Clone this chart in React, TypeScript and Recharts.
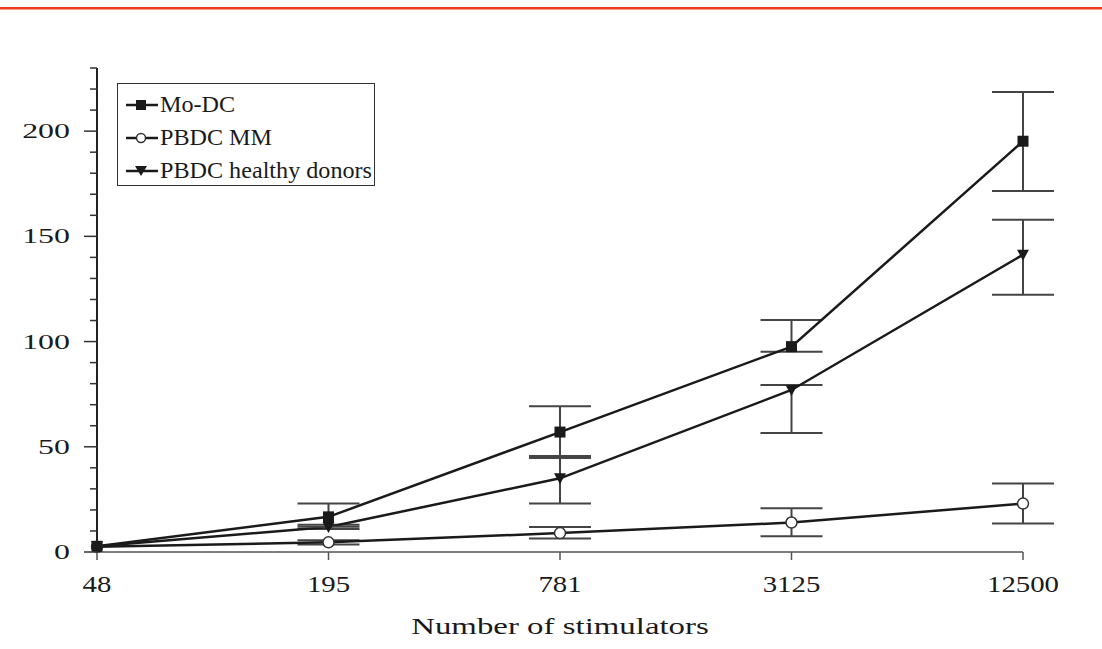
import { LineChart, Line, XAxis, YAxis, ErrorBar, Legend, Label } from 'recharts'

const stimulators = ['48', '195', '781', '3125', '12500']

const moDc = [2.7, 16.7, 57, 97.6, 195.2]
const moDcErr = [null, [4.7, 6.3], [12.3, 12.3], [2.4, 12.7], [23.6, 23.4]]

const pbdcMm = [2.5, 4.6, 9, 14, 23]
const pbdcMmErr = [null, [1, 1], [2.6, 2.9], [6.5, 6.8], [9.5, 9.6]]

const pbdcHealthy = [2.7, 11.9, 35, 77, 141.3]
const pbdcHealthyErr = [null, [1, 1], [12, 10.6], [20.5, 2.4], [19.1, 16.6]]

const yTicks = [0, 10, 20, 30, 40, 50, 60, 70, 80, 90, 100, 110, 120, 130, 140, 150, 160, 170, 180, 190, 200, 210, 220, 230]
const yLabels = [0, 50, 100, 150, 200]

const legendItems = [
  { name: 'Mo-DC', marker: 'square' },
  { name: 'PBDC MM', marker: 'circle' },
  { name: 'PBDC healthy donors', marker: 'triangle' },
]

const data = stimulators.map((n, i) => ({
  n,
  mo: moDc[i],
  moErr: moDcErr[i],
  mm: pbdcMm[i],
  mmErr: pbdcMmErr[i],
  hd: pbdcHealthy[i],
  hdErr: pbdcHealthyErr[i],
}))

const FONT = '"Liberation Serif", "Times New Roman", serif'
const INK = '#1a1a1a'

function SquareDot(p: any) {
  if (p.cx == null || p.cy == null) return <g key={p.index} />
  return <rect key={p.index} x={p.cx - 5.5} y={p.cy - 5.5} width={11} height={11} fill={INK} />
}

function CircleDot(p: any) {
  if (p.cx == null || p.cy == null) return <g key={p.index} />
  return <circle key={p.index} cx={p.cx} cy={p.cy} r={5.5} fill="#fff" stroke="#333" strokeWidth={1.5} />
}

function TriangleDot(p: any) {
  if (p.cx == null || p.cy == null) return <g key={p.index} />
  const { cx, cy } = p
  return <polygon key={p.index} points={`${cx - 6},${cy - 5} ${cx + 6},${cy - 5} ${cx},${cy + 6}`} fill={INK} />
}

function Marker({ kind }: { kind: string }) {
  return (
    <svg width={36} height={20} style={{ display: 'block', flex: 'none' }}>
      <line x1={2} x2={34} y1={10} y2={10} stroke={INK} strokeWidth={2.5} />
      {kind === 'square' && <rect x={12} y={5} width={10} height={10} fill={INK} />}
      {kind === 'circle' && <circle cx={17} cy={10} r={4.5} fill="#fff" stroke="#333" strokeWidth={1.5} />}
      {kind === 'triangle' && <polygon points="11,5 23,5 17,15" fill={INK} />}
    </svg>
  )
}

function LegendBox() {
  return (
    <div
      style={{
        border: '1.5px solid #333',
        width: 258,
        height: 103,
        boxSizing: 'border-box',
        padding: '4px 0 0 6px',
        overflow: 'hidden',
        background: '#fff',
      }}
    >
      {legendItems.map((item) => (
        <div key={item.name} style={{ display: 'flex', alignItems: 'center', height: 33 }}>
          <Marker kind={item.marker} />
          <span
            style={{
              display: 'inline-block',
              fontFamily: FONT,
              fontSize: 23,
              color: INK,
              whiteSpace: 'nowrap',
              transform: 'scaleX(1.05)',
              transformOrigin: 'left center',
            }}
          >
            {item.name}
          </span>
        </div>
      ))}
    </div>
  )
}

function YTick(props: any) {
  const { x, y, payload } = props
  const major = yLabels.includes(payload.value)
  return (
    <g>
      <line x1={x - (major ? 13 : 7)} x2={x} y1={y} y2={y} stroke="#333" strokeWidth={1.5} />
      {major && (
        <text
          transform={`translate(${x - 27},${y + 7}) scale(1.45,1)`}
          textAnchor="end"
          fontFamily={FONT}
          fontSize={22}
          fill={INK}
        >
          {payload.value}
        </text>
      )}
    </g>
  )
}

function XTick(props: any) {
  const { x, y, payload } = props
  return (
    <text
      transform={`translate(${x},${y + 32}) scale(1.2,1)`}
      textAnchor="middle"
      fontFamily={FONT}
      fontSize={24}
      fill={INK}
    >
      {payload.value}
    </text>
  )
}

function XTitle(props: any) {
  const vb = props.viewBox || {}
  const cx = vb.x + vb.width / 2
  return (
    <text
      transform={`translate(${cx},${vb.y + 82}) scale(1.43,1)`}
      textAnchor="middle"
      fontFamily={FONT}
      fontSize={23}
      fill={INK}
    >
      Number of stimulators
    </text>
  )
}

export default function App() {
  return (
    <div style={{ position: 'absolute', left: 0, top: 0, width: 1102, height: 649, background: '#fff' }}>
      <div style={{ position: 'absolute', left: 0, top: 7, width: 1102, height: 2, background: '#ee3b1d' }} />
      <div style={{ position: 'absolute', left: 0, top: 9, width: 1102, height: 1, background: '#f7a08c' }} />
      <LineChart width={1102} height={649} data={data} margin={{ top: 68, right: 79, bottom: 37, left: 37 }}>
        <XAxis
          dataKey="n"
          padding={{ left: 0, right: 0 }}
          height={60}
          stroke="#555"
          strokeWidth={1.5}
          tickSize={8}
          tickMargin={0}
          tick={<XTick />}
          interval={0}
        >
          <Label content={<XTitle />} />
        </XAxis>
        <YAxis
          domain={[0, 230]}
          ticks={yTicks}
          interval={0}
          width={60}
          stroke="#222"
          strokeWidth={2}
          tickLine={false}
          tickSize={0}
          tickMargin={0}
          tick={<YTick />}
        />
        <Legend
          layout="horizontal"
          verticalAlign="middle"
          align="center"
          content={<LegendBox />}
          wrapperStyle={{ position: 'absolute', left: 117, top: 83, width: 258, height: 103 }}
        />
        <Line type="linear" dataKey="mm" stroke={INK} strokeWidth={2.5} dot={CircleDot} isAnimationActive={false} legendType="none">
          <ErrorBar dataKey="mmErr" width={31} stroke="#444" strokeWidth={2} direction="y" />
        </Line>
        <Line type="linear" dataKey="hd" stroke={INK} strokeWidth={2.5} dot={TriangleDot} isAnimationActive={false} legendType="none">
          <ErrorBar dataKey="hdErr" width={31} stroke="#444" strokeWidth={2} direction="y" />
        </Line>
        <Line type="linear" dataKey="mo" stroke={INK} strokeWidth={2.5} dot={SquareDot} isAnimationActive={false} legendType="none">
          <ErrorBar dataKey="moErr" width={31} stroke="#444" strokeWidth={2} direction="y" />
        </Line>
      </LineChart>
    </div>
  )
}
